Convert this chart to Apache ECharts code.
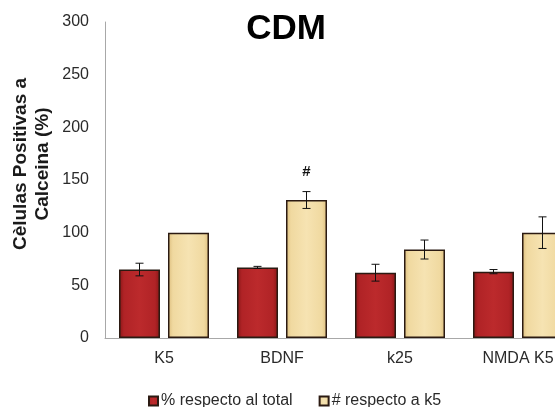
<!DOCTYPE html>
<html>
<head>
<meta charset="utf-8">
<script src="https://cdn.jsdelivr.net/npm/echarts@6/dist/echarts.min.js"></script>
<style>
  html, body { margin: 0; padding: 0; background: #ffffff; overflow: hidden; }
  /* the plot runs past the right edge of the window, so the canvas is wider than the view */
  #chart { width: 577px; height: 407px; }
</style>
</head>
<body>
<div id="chart"></div>
<script>
// Treatments on the x axis
const categories = ['K5', 'BDNF', 'k25', 'NMDA K5'];
// % of calcein-positive cells over the total, with error
const totalPct = [65, 67, 62, 63];
const totalErr = [6, 1, 8, 2];
// Same counts normalised to K5 (= 100), with error
const relK5 = [100, 131, 84, 100];
const relK5Err = [0, 8, 9, 15];
// Significance marks above the normalised bars
const marks = ['', '#', '', ''];
// Y axis range
const yMin = 0, yMax = 300, yStep = 50;

const FONT = "'Liberation Sans', Arial, sans-serif";
const BAR_W = 41;
const BAR_GAP = 8;
const OFFSET = (BAR_W + BAR_GAP) / 2;

const redFill = new echarts.graphic.LinearGradient(0, 0, 1, 0, [
  { offset: 0, color: '#861616' },
  { offset: 0.12, color: '#B02326' },
  { offset: 0.5, color: '#BC2A2C' },
  { offset: 0.88, color: '#B02326' },
  { offset: 1, color: '#861616' }
]);
const yellowFill = new echarts.graphic.LinearGradient(0, 0, 1, 0, [
  { offset: 0, color: '#DDBE7E' },
  { offset: 0.12, color: '#F0D9A0' },
  { offset: 0.5, color: '#F6E3B2' },
  { offset: 0.88, color: '#F0D9A0' },
  { offset: 1, color: '#DDBE7E' }
]);

function errorSeries(values, errs, offset, labels) {
  return {
    type: 'custom',
    z: 5,
    silent: true,
    data: values.map((v, i) => [i, v - errs[i], v + errs[i], v]),
    renderItem: function (params, api) {
      const i = api.value(0);
      const lo = api.value(1), hi = api.value(2);
      const x = api.coord([i, 0])[0] + offset;
      const yLo = api.coord([i, lo])[1];
      const yHi = api.coord([i, hi])[1];
      const cap = 4;
      const style = { stroke: '#111', lineWidth: 1, fill: null };
      const children = [];
      if (hi > lo) {
        children.push(
          { type: 'line', shape: { x1: x, y1: yLo, x2: x, y2: yHi }, style: style },
          { type: 'line', shape: { x1: x - cap, y1: yLo, x2: x + cap, y2: yLo }, style: style },
          { type: 'line', shape: { x1: x - cap, y1: yHi, x2: x + cap, y2: yHi }, style: style }
        );
      }
      const mark = labels ? labels[params.dataIndex] : '';
      if (mark) {
        children.push({
          type: 'text',
          style: {
            x: x, y: yHi - 20, text: mark,
            fill: '#111', font: 'bold 15px ' + FONT,
            textAlign: 'center', textVerticalAlign: 'middle'
          }
        });
      }
      return { type: 'group', children: children };
    }
  };
}

const chart = echarts.init(document.getElementById('chart'), null, { renderer: 'canvas' });
chart.setOption({
  animation: false,
  backgroundColor: '#ffffff',
  textStyle: { fontFamily: FONT },
  graphic: [
    {
      type: 'text', x: 286, y: 29,
      style: { text: 'CDM', font: 'bold 35px ' + FONT, fill: '#000', textAlign: 'center', textVerticalAlign: 'middle' }
    },
    {
      type: 'text', x: 21, y: 164, rotation: Math.PI / 2,
      style: { text: 'Cèlulas Positivas a', font: 'bold 19px ' + FONT, fill: '#1a1a1a', textAlign: 'center', textVerticalAlign: 'middle' }
    },
    {
      type: 'text', x: 43, y: 164, rotation: Math.PI / 2,
      style: { text: 'Calceina (%)', font: 'bold 19px ' + FONT, fill: '#1a1a1a', textAlign: 'center', textVerticalAlign: 'middle' }
    }
  ],
  legend: {
    data: ['% respecto al total', '# respecto a k5'],
    left: 143, top: 388,
    itemWidth: 9, itemHeight: 9, itemGap: 26,
    icon: 'rect',
    textStyle: { fontSize: 16, color: '#2a2a2a', fontFamily: FONT, padding: [0, 0, 0, -2] }
  },
  grid: { left: 105, top: 22, right: 0, bottom: 69, containLabel: false },
  xAxis: {
    type: 'category',
    data: categories,
    axisLine: { lineStyle: { color: '#a8a8a8', width: 1 } },
    axisTick: { show: false },
    axisLabel: { fontSize: 16, color: '#2a2a2a', margin: 13, fontFamily: FONT }
  },
  yAxis: {
    type: 'value',
    min: yMin, max: yMax, interval: yStep,
    axisLine: { show: true, lineStyle: { color: '#a8a8a8', width: 1 } },
    axisTick: { show: false },
    splitLine: { show: false },
    axisLabel: { fontSize: 16, color: '#2a2a2a', margin: 16, fontFamily: FONT }
  },
  series: [
    {
      name: '% respecto al total',
      type: 'bar',
      data: totalPct,
      barWidth: BAR_W,
      barGap: (BAR_GAP / BAR_W * 100) + '%',
      itemStyle: { color: redFill, borderColor: '#2b1a12', borderWidth: 1.5 }
    },
    {
      name: '# respecto a k5',
      type: 'bar',
      data: relK5,
      barWidth: BAR_W,
      itemStyle: { color: yellowFill, borderColor: '#2b1a12', borderWidth: 1.5 }
    },
    errorSeries(totalPct, totalErr, -OFFSET, null),
    errorSeries(relK5, relK5Err, OFFSET, marks)
  ]
});
</script>
</body>
</html>
